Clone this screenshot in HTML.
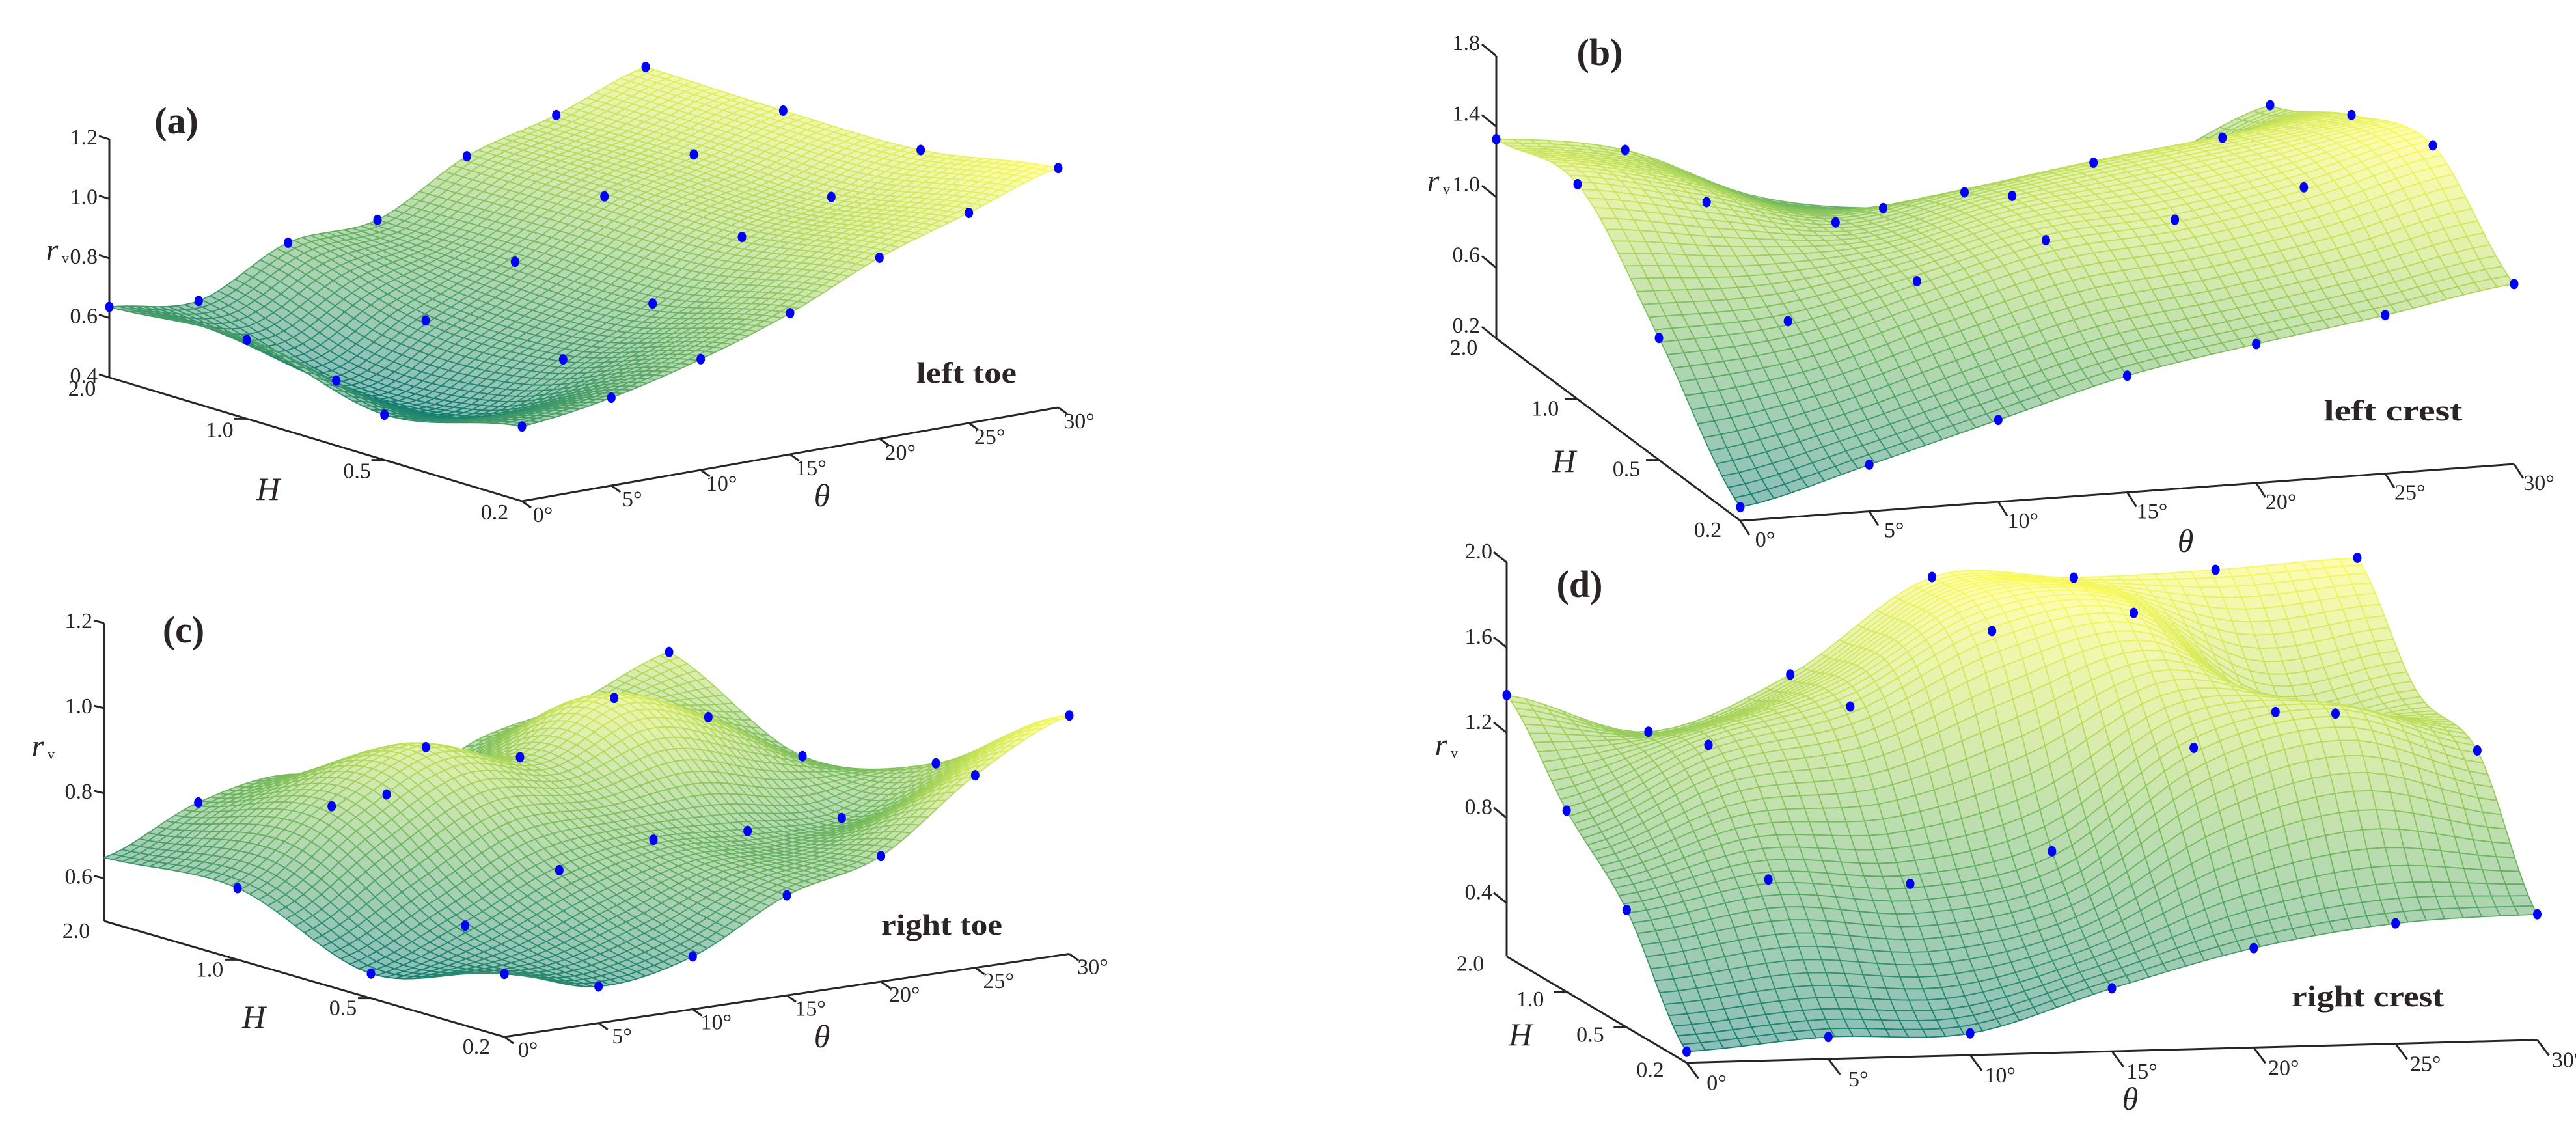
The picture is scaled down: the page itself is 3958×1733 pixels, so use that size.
<!DOCTYPE html>
<html><head><meta charset="utf-8">
<style>
html,body{margin:0;padding:0;background:#fff;}
svg{display:block;}
text{font-family:"Liberation Serif",serif;fill:#2b2424;}
</style></head>
<body>
<svg id="fig" width="3958" height="1733" viewBox="0 0 3958 1733" xmlns="http://www.w3.org/2000/svg">
<rect x="0" y="0" width="3958" height="1733" fill="#fff"/>
</svg>
<script>
// ---- data ----
const thetaTicks = [0, 5, 10, 15, 20, 25, 30];
const hLabels = ['0.2', '0.5', '1.0', '2.0'];
// rows: H=0.2, 0.5, 1.0, 2.0 ; columns: theta 0..30
const zLeftToe = [
  [0.651, 0.695, 0.772, 0.874, 1.008, 1.106, 1.204],
  [0.552, 0.500, 0.633, 0.768, 0.939, 1.021, 1.126],
  [0.665, 0.476, 0.625, 0.770, 0.937, 1.025, 1.120],
  [0.637, 0.605, 0.748, 0.772, 0.933, 1.019, 1.128]
];
const zLeftCrest = [
  [0.277, 0.464, 0.664, 0.861, 0.987, 1.097, 1.220],
  [0.891, 0.933, 1.105, 1.284, 1.347, 1.477, 1.661],
  [1.418, 1.263, 1.095, 1.212, 1.326, 1.414, 1.489],
  [1.328, 1.214, 0.900, 0.778, 0.794, 0.900, 1.201]
];
const zRightToe = [
  [0.648, 0.586, 0.624, 0.735, 0.795, 0.952, 1.060],
  [0.558, 0.638, 0.736, 0.775, 0.763, 0.761, 0.857],
  [0.668, 0.828, 0.934, 0.878, 0.985, 0.907, 0.783],
  [0.649, 0.746, 0.780, 0.700, 0.800, 0.850, 0.937]
];
const zRightCrest = [
  [0.202, 0.253, 0.252, 0.446, 0.617, 0.715, 0.740],
  [0.701, 0.826, 0.788, 0.923, 1.391, 1.534, 1.343],
  [1.001, 1.292, 1.454, 1.791, 1.858, 1.375, 1.450],
  [1.377, 1.187, 1.438, 1.878, 1.857, 1.876, 1.915]
];
const zTicksA = [0.4, 0.6, 0.8, 1.0, 1.2];
const zTicksB = [0.2, 0.6, 1.0, 1.4, 1.8];
const zTicksC = [0.6, 0.8, 1.0, 1.2];
const zTicksD = [0.4, 0.8, 1.2, 1.6, 2.0];
// points hidden behind the surface in the reference ("row,col")
const hiddenA = ['1,1'];
const hiddenB = ['3,2', '3,5'];
const hiddenC = ['3,0', '3,2', '3,4', '3,5'];
const hiddenD = ['2,6'];

// ---- layout (not data) ----
const panels = [
  {id:'a', Z:zLeftToe, zt:zTicksA, hid:hiddenA, O:[802,770], vT:[824,-144], vH:[-634,-190], z0:0.4, kz:457.5, zTop:1.2,
   zTick:[-16,-5], zLab:[-18,8], hTick:[-20,0], hLab:[-42,28], tTick:[14,10], tLab:[32,32], nu:64, nv:44,
   letter:[271,205], name:'left toe', nameXY:[1485,588], nameW:154, Hxy:[412,768], Txy:[1263,778], Rxy:[80,400]},
  {id:'b', Z:zLeftCrest, zt:zTicksB, hid:hiddenB, O:[2674,800], vT:[1189,-87], vH:[-375,-280], z0:0.2, kz:271.25, zTop:1.8,
   zTick:[-22,-18], zLab:[-25,-9], hTick:[-20,0], hLab:[-50,25], tTick:[14,22], tLab:[38,40], nu:46, nv:40,
   letter:[2458,100], name:'left crest', nameXY:[3677,646], nameW:213, Hxy:[2403,725], Txy:[3358,848], Rxy:[2202,294]},
  {id:'c', Z:zRightToe, zt:zTicksC, hid:hiddenC, O:[775,1593], vT:[868,-127.5], vH:[-615,-178], z0:0.5, kz:654, zTop:1.2,
   zTick:[-16,-4], zLab:[-18,8], hTick:[-20,0], hLab:[-43,26], tTick:[14,10], tLab:[36,31], nu:64, nv:44,
   letter:[282,987], name:'right toe', nameXY:[1447,1436], nameW:186, Hxy:[390,1579], Txy:[1263,1609], Rxy:[58,1162]},
  {id:'d', Z:zRightCrest, zt:zTicksD, hid:hiddenD, O:[2591.5,1632.7], vT:[1307,-35], vH:[-276.5,-163.3], z0:0.15, kz:327.2, zTop:2.0,
   zTick:[-20,-16], zLab:[-22,-6], hTick:[-20,0], hLab:[-56,22], tTick:[18,24], tLab:[46,42], nu:46, nv:40,
   letter:[2427,917], name:'right crest', nameXY:[3638,1546], nameW:234, Hxy:[2336,1606], Txy:[3273,1705], Rxy:[2214,1160]}
];

const NS = 'http://www.w3.org/2000/svg';
const svg = document.getElementById('fig');
function mk(tag, attrs, parent){
  const e = document.createElementNS(NS, tag);
  for (const k in attrs) e.setAttribute(k, attrs[k]);
  (parent || svg).appendChild(e);
  return e;
}
function cr(p0,p1,p2,p3,t){return 0.5*((2*p1)+(-p0+p2)*t+(2*p0-5*p1+4*p2-p3)*t*t+(-p0+3*p1-3*p2+p3)*t*t*t);}
function interp1(arr,u){
  const n = arr.length; let i = Math.min(Math.floor(u), n-2); if (i<0) i=0; const t = u-i;
  return cr(arr[Math.max(i-1,0)], arr[i], arr[i+1], arr[Math.min(i+2,n-1)], t);
}
function surf(Z,u,v){
  const col = Z.map(r => interp1(r,u));
  return interp1(col,v);
}
function lerp(a,b,t){return a+(b-a)*t;}
const stops = [[0,[20,125,112]],[0.45,[115,185,95]],[0.75,[195,225,90]],[1,[250,250,95]]];
function cmap(t){
  t = Math.max(0,Math.min(1,t));
  for (let i=0;i<stops.length-1;i++){
    if (t<=stops[i+1][0]){
      const f=(t-stops[i][0])/(stops[i+1][0]-stops[i][0]);
      return stops[i][1].map((c,k)=>Math.round(lerp(c,stops[i+1][1][k],f)));
    }
  }
  return stops[stops.length-1][1];
}
function rgb(c){return 'rgb('+c.join(',')+')';}

panels.forEach(p => {
  const g = mk('g', {});
  
  
  const proj = (u,v,z) => [p.O[0]+u*p.vT[0]+v*p.vH[0], p.O[1]+u*p.vT[1]+v*p.vH[1]-(z-p.z0)*p.kz];
  const tMax = thetaTicks[thetaTicks.length-1];
  const uOf = th => th / tMax;
  const vOf = hi => hi / (hLabels.length-1);

  const ax = mk('g', {stroke:'#2b2424','stroke-width':3,fill:'none'}, g);
  
  
  const Hc = proj(0,1,p.z0), Tc = proj(1,0,p.z0), Zt = proj(0,1,p.zTop);
  const l1 = mk('line', {x1:p.O[0],y1:p.O[1],x2:Tc[0],y2:Tc[1]}, ax);
   
  const l2 = mk('line', {x1:p.O[0],y1:p.O[1],x2:Hc[0],y2:Hc[1]}, ax);
   
  const l3 = mk('line', {x1:Hc[0],y1:Hc[1],x2:Zt[0],y2:Zt[1]}, ax);
   

  p.zt.forEach(z => {
    const q = proj(0,1,z);
    const tk = mk('line', {x1:q[0],y1:q[1],x2:q[0]+p.zTick[0],y2:q[1]+p.zTick[1]}, ax);
     
    const t = mk('text', {x:q[0]+p.zLab[0], y:q[1]+p.zLab[1], 'font-size':34, 'text-anchor':'end'}, g);
    t.textContent = z.toFixed(1);
     
  });
  hLabels.forEach((h,hi) => {
    const q = proj(0,vOf(hi),p.z0);
    if (hi>0 && hi<hLabels.length-1){
      const tk = mk('line', {x1:q[0],y1:q[1],x2:q[0]+p.hTick[0],y2:q[1]+p.hTick[1]}, ax);
       
    }
    const t = mk('text', {x:q[0]+p.hLab[0], y:q[1]+p.hLab[1], 'font-size':34, 'text-anchor':'middle'}, g);
    t.textContent = h;
     
  });
  thetaTicks.forEach(th => {
    const q = proj(uOf(th),0,p.z0);
    const tk = mk('line', {x1:q[0],y1:q[1],x2:q[0]+p.tTick[0],y2:q[1]+p.tTick[1]}, ax);
     
    const t = mk('text', {x:q[0]+p.tLab[0], y:q[1]+p.tLab[1], 'font-size':34, 'text-anchor':'middle'}, g);
    t.textContent = th + '°';
     
  });

  let zmin = Infinity, zmax = -Infinity;
  p.Z.forEach(r => r.forEach(z => {zmin=Math.min(zmin,z); zmax=Math.max(zmax,z);}));
  const NU = p.nu, NV = p.nv, nT = thetaTicks.length-1, nH = hLabels.length-1;
  const grid = [];
  for (let j=0;j<=NV;j++){ const row=[]; for (let i=0;i<=NU;i++){ row.push(surf(p.Z, i/NU*nT, j/NV*nH)); } grid.push(row); }
  const quads = [];
  for (let j=0;j<NV;j++) for (let i=0;i<NU;i++){
    const u0=i/NU,u1=(i+1)/NU,v0=j/NV,v1=(j+1)/NV;
    const a=proj(u0,v0,grid[j][i]), b=proj(u1,v0,grid[j][i+1]), c=proj(u1,v1,grid[j+1][i+1]), d=proj(u0,v1,grid[j+1][i]);
    const zm=(grid[j][i]+grid[j][i+1]+grid[j+1][i+1]+grid[j+1][i])/4;
    const depth = p.O[1]+(u0+u1)/2*p.vT[1]+(v0+v1)/2*p.vH[1];
    quads.push({pts:[a,b,c,d], zm, depth});
  }
  quads.sort((x,y)=>x.depth-y.depth);
  const sg = mk('g', {'stroke-width':1.8,'stroke-linejoin':'round'}, g);
  
  
  quads.forEach(q => {
    const col = cmap((q.zm-zmin)/(zmax-zmin));
    const fill = col.map(c=>Math.round(c*0.5+255*0.5));
    const d = 'M'+q.pts.map(pt=>pt[0].toFixed(1)+','+pt[1].toFixed(1)).join('L')+'Z';
    const el = mk('path', {d:d, fill:rgb(fill), stroke:rgb(col)}, sg);
    
    
  });

  p.Z.forEach((r,hi) => r.forEach((z,ti) => {
    if (p.hid.indexOf(hi+','+ti) >= 0) return;
    const q = proj(uOf(thetaTicks[ti]), vOf(hi), z);
    const e = mk('ellipse', {cx:q[0], cy:q[1], rx:6.5, ry:8, fill:'#0000ff'}, g);
    
    
  }));

  const L = mk('text', {x:p.letter[0], y:p.letter[1], 'font-size':58, 'font-weight':'bold', 'text-anchor':'middle'}, g);
  L.textContent = '(' + p.id + ')';
   
  const N = mk('text', {x:p.nameXY[0]-p.nameW/2, y:p.nameXY[1], 'font-size':46, 'font-weight':'bold', textLength:p.nameW, lengthAdjust:'spacingAndGlyphs'}, g);
  N.textContent = p.name;
   
  const H = mk('text', {x:p.Hxy[0], y:p.Hxy[1], 'font-size':50, 'font-style':'italic', 'text-anchor':'middle'}, g);
  H.textContent = 'H';
   
  const T = mk('text', {x:p.Txy[0], y:p.Txy[1], 'font-size':50, 'font-style':'italic', 'text-anchor':'middle'}, g);
  T.textContent = 'θ';
   
  const R = mk('text', {x:p.Rxy[0], y:p.Rxy[1], 'font-size':48, 'font-style':'italic', 'text-anchor':'middle'}, g);
  R.textContent = 'r';
   
  const V = mk('text', {x:p.Rxy[0]+15, y:p.Rxy[1]+4, 'font-size':22}, g);
  V.textContent = 'v';
   
});
</script>
</body></html>
